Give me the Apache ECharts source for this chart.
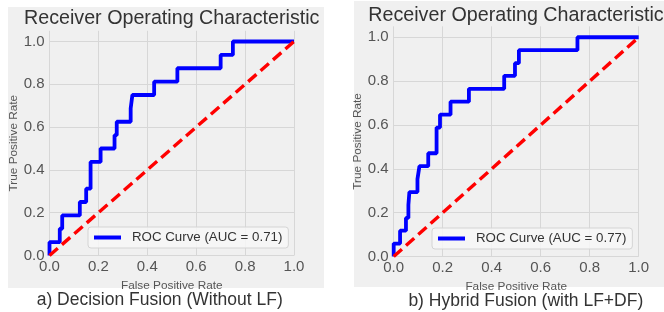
<!DOCTYPE html>
<html>
<head>
<meta charset="utf-8">
<script src="https://cdn.jsdelivr.net/npm/echarts@6/dist/echarts.min.js"></script>
<style>
html,body{margin:0;padding:0;background:#ffffff;}
#chart{width:664px;height:312px;}
</style>
</head>
<body>
<div id="chart"></div>
<script>
// ---- data ----
const fprA = [0,0,0.042,0.042,0.052,0.052,0.124,0.124,0.150,0.150,0.168,0.168,0.209,0.209,0.266,0.266,0.275,0.275,0.332,0.332,0.339,0.339,0.428,0.428,0.523,0.523,0.70,0.70,0.75,0.75,1.0];
const tprA = [0,0.0625,0.0625,0.125,0.125,0.1875,0.1875,0.25,0.25,0.3125,0.3125,0.4375,0.4375,0.5,0.5,0.5625,0.5625,0.625,0.625,0.6875,0.6875,0.75,0.75,0.8125,0.8125,0.875,0.875,0.9375,0.9375,1.0,1.0];
const fprB = [0,0,0.026,0.026,0.050,0.050,0.060,0.060,0.064,0.064,0.097,0.097,0.105,0.105,0.141,0.141,0.175,0.175,0.189,0.189,0.232,0.232,0.307,0.307,0.451,0.451,0.495,0.495,0.511,0.511,0.75,0.75,1.0];
const tprB = [0,0.059,0.059,0.118,0.118,0.176,0.176,0.235,0.235,0.294,0.294,0.353,0.353,0.412,0.412,0.471,0.471,0.588,0.588,0.647,0.647,0.706,0.706,0.765,0.765,0.824,0.824,0.882,0.882,0.941,0.941,1.0,1.0];
const diagX = [0, 1];
const diagY = [0, 1];
const nameA = 'ROC Curve (AUC = 0.71)';
const nameB = 'ROC Curve (AUC = 0.77)';
const chartTitle = 'Receiver Operating Characteristic';
const captionA = 'a) Decision Fusion (Without LF)';
const captionB = 'b) Hybrid Fusion (with LF+DF)';
const xName = 'False Positive Rate';
const yName = 'True Positive Rate';

// ---- build ----
const zip = (xs, ys) => xs.map((x, i) => [x, ys[i]]);
const FONT = '"Liberation Sans", Arial, Helvetica, sans-serif';
const tickColor = '#555555';
const gridColor = '#d7d7d7';

function xAxisCfg(gi) {
  return {
    type: 'value', gridIndex: gi, min: 0, max: 1, interval: 0.2,
    name: xName, nameLocation: 'middle', nameGap: 17,
    nameTextStyle: {fontSize: 11.8, color: tickColor, fontFamily: FONT},
    axisLine: {show: false}, axisTick: {show: false},
    axisLabel: {fontSize: 15, color: tickColor, margin: 4, fontFamily: FONT,
      formatter: v => v.toFixed(1)},
    splitLine: {show: true, lineStyle: {color: gridColor, width: 1}}
  };
}
function yAxisCfg(gi) {
  return {
    type: 'value', gridIndex: gi, min: 0, max: 1.05, interval: 0.2,
    name: yName, nameLocation: 'middle', nameGap: 30,
    nameTextStyle: {fontSize: 11.8, color: tickColor, fontFamily: FONT},
    axisLine: {show: false}, axisTick: {show: false},
    axisLabel: {fontSize: 15, color: tickColor, margin: 5, fontFamily: FONT,
      showMaxLabel: false,
      formatter: v => (Math.abs(v - 1.05) < 1e-6 ? '' : v.toFixed(1))},
    splitLine: {show: true, showMaxLine: false, lineStyle: {color: gridColor, width: 1}}
  };
}
function legendCfg(name, left, top) {
  return {
    data: [{name: name, icon: 'path://M0,0H27V4H0Z'}], left: left, top: top, orient: 'horizontal',
    padding: [4, 6, 4, 6], itemWidth: 27, itemHeight: 4,
    backgroundColor: 'rgba(247,247,247,0.85)', borderColor: '#d4d4d4', borderWidth: 1, borderRadius: 3,
    itemStyle: {color: '#0000ff'},
    textStyle: {fontSize: 13.3, color: '#333333', fontFamily: FONT, padding: [0, 0, 0, 6]}
  };
}
function rocSeries(name, xs, ys, gi) {
  return {
    type: 'line', name: name, xAxisIndex: gi, yAxisIndex: gi,
    data: zip(xs, ys), symbol: 'none', showSymbol: false, smooth: false,
    lineStyle: {color: '#0000ff', width: 3.8}, itemStyle: {color: '#0000ff'},
    z: 3, animation: false
  };
}
function diagSeries(gi) {
  return {
    type: 'line', name: 'diag' + gi, xAxisIndex: gi, yAxisIndex: gi,
    data: zip(diagX, diagY), symbol: 'none', showSymbol: false,
    lineStyle: {color: '#ff0000', width: 3.4, type: [11, 5.5]},
    z: 4, animation: false
  };
}

const chart = echarts.init(document.getElementById('chart'), null, {renderer: 'canvas'});
chart.setOption({
  animation: false,
  backgroundColor: '#ffffff',
  textStyle: {fontFamily: FONT},
  grid: [
    {left: 49.5, top: 30.8, width: 244.5, height: 224.7},
    {left: 393.7, top: 26.3, width: 245, height: 230.2}
  ],
  xAxis: [xAxisCfg(0), xAxisCfg(1)],
  yAxis: [yAxisCfg(0), yAxisCfg(1)],
  legend: [legendCfg(nameA, 88, 227), legendCfg(nameB, 432, 228)],
  series: [
    rocSeries(nameA, fprA, tprA, 0), diagSeries(0),
    rocSeries(nameB, fprB, tprB, 1), diagSeries(1)
  ],
  graphic: [
    {type: 'rect', z: -10, silent: true, shape: {x: 8, y: 7, width: 316, height: 281}, style: {fill: '#f0f0f0'}},
    {type: 'rect', z: -10, silent: true, shape: {x: 354, y: 1, width: 310, height: 286}, style: {fill: '#f0f0f0'}},
    {type: 'text', z: 10, x: 171.7, y: 18.5, style: {text: chartTitle, fontSize: 19.7, fill: '#333333', fontFamily: FONT, align: 'center', verticalAlign: 'middle'}},
    {type: 'text', z: 10, x: 516, y: 15.2, style: {text: chartTitle, fontSize: 19.7, fill: '#333333', fontFamily: FONT, align: 'center', verticalAlign: 'middle'}},
    {type: 'text', z: 10, x: 159.7, y: 299.8, style: {text: captionA, fontSize: 17.5, fill: '#333333', fontFamily: FONT, align: 'center', verticalAlign: 'middle'}},
    {type: 'text', z: 10, x: 525.8, y: 301.4, style: {text: captionB, fontSize: 17.5, fill: '#333333', fontFamily: FONT, align: 'center', verticalAlign: 'middle'}}
  ]
});
</script>
</body>
</html>
